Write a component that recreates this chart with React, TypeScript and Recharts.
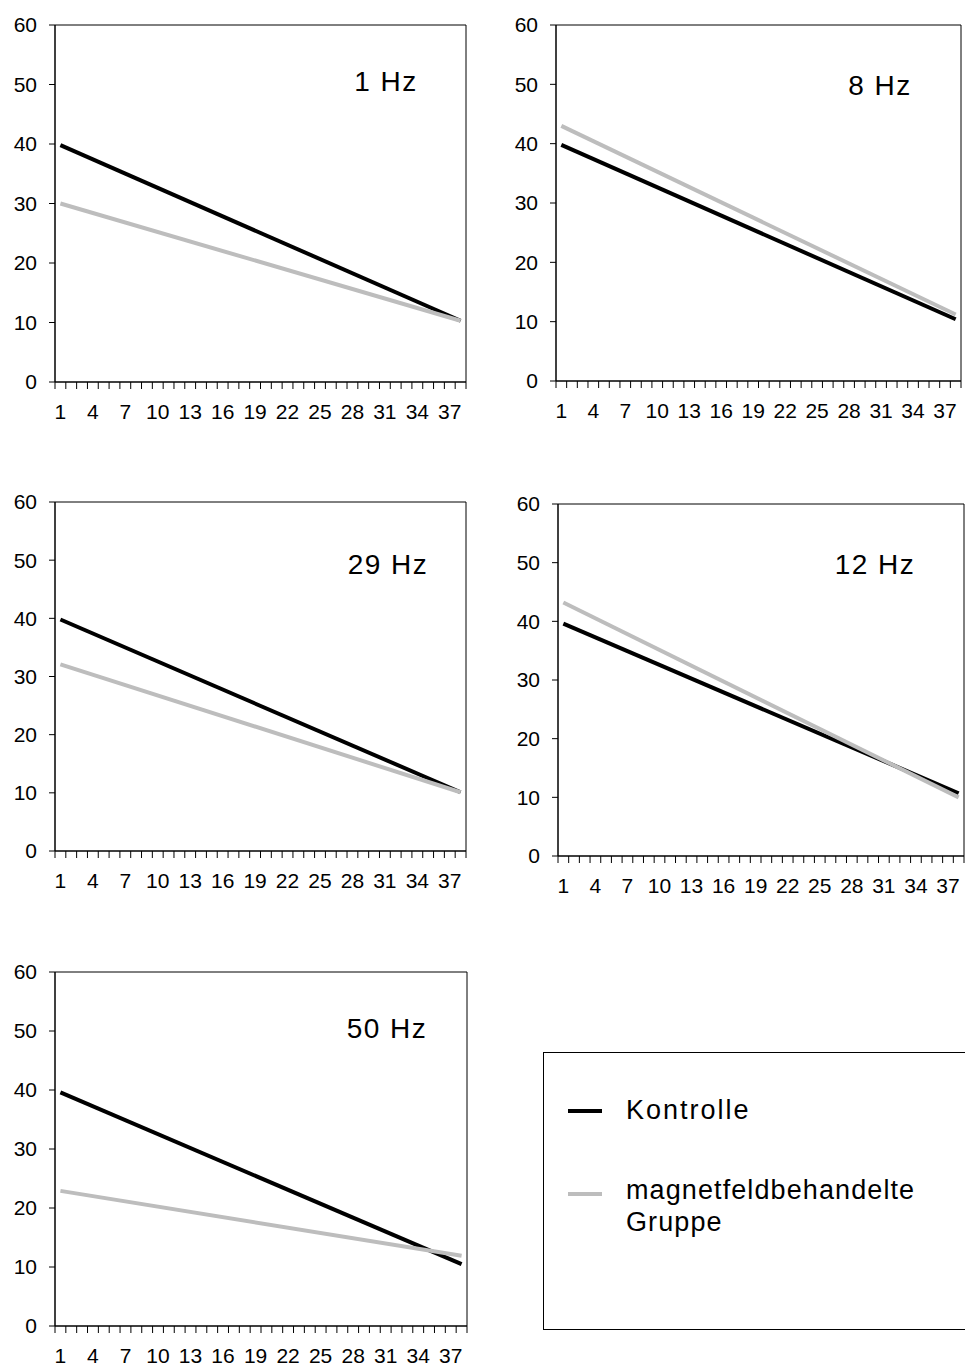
import { LineChart, Line, XAxis, YAxis, ReferenceLine } from 'recharts';

// categories on the x axis (one per measuring day)
const days = [1, 2, 3, 4, 5, 6, 7, 8, 9, 10, 11, 12, 13, 14, 15, 16, 17, 18, 19, 20, 21, 22, 23, 24, 25, 26, 27, 28, 29, 30, 31, 32, 33, 34, 35, 36, 37, 38];
const labelDays = [1, 4, 7, 10, 13, 16, 19, 22, 25, 28, 31, 34, 37];
const yTicks = [0, 10, 20, 30, 40, 50, 60];

// trend lines: value at first and last day
const trendDays = [1, 38];
const kontrolle1Hz = [39.8, 10.3];
const magnet1Hz = [30.0, 10.3];
const kontrolle8Hz = [39.8, 10.4];
const magnet8Hz = [43.0, 11.2];
const kontrolle29Hz = [39.8, 10.1];
const magnet29Hz = [32.1, 10.1];
const kontrolle12Hz = [39.6, 10.7];
const magnet12Hz = [43.2, 10.0];
const kontrolle50Hz = [39.6, 10.5];
const magnet50Hz = [22.9, 11.9];

const FONT = '"Liberation Sans", Arial, sans-serif';
const BLACK = '#000000';
const GREY = '#bdbdbd';

// tick marks sit between the categories, labels in the middle of each category
const tickEdges = [...days.map((d) => d - 0.5), days[days.length - 1] + 0.5];
const xDomain: [number, number] = [tickEdges[0], tickEdges[tickEdges.length - 1]];

const rows = (k: number[], m: number[]) =>
    trendDays.map((day, i) => ({ day, kontrolle: k[i], magnet: m[i] }));

const panels = [
    { title: '1 Hz', x: 55, y: 25, w: 411, h: 357, tx: 386, ty: 82, data: rows(kontrolle1Hz, magnet1Hz) },
    { title: '8 Hz', x: 556, y: 25, w: 405, h: 356, tx: 880, ty: 86, data: rows(kontrolle8Hz, magnet8Hz) },
    { title: '29 Hz', x: 55, y: 502, w: 411, h: 349, tx: 388, ty: 565, data: rows(kontrolle29Hz, magnet29Hz) },
    { title: '12 Hz', x: 558, y: 504, w: 406, h: 352, tx: 875, ty: 565, data: rows(kontrolle12Hz, magnet12Hz) },
    { title: '50 Hz', x: 55, y: 972, w: 412, h: 354, tx: 387, ty: 1029, data: rows(kontrolle50Hz, magnet50Hz) },
];

function DayTick({ x, y, payload, step }: any) {
    const day = payload.value + 0.5;
    if (!labelDays.includes(day)) return <g />;
    return (
        <text x={x + step / 2} y={y} dy="0.71em" textAnchor="middle" fill={BLACK}
            fontSize={21} fontFamily={FONT}>{day}</text>
    );
}

function Panel({ p }: any) {
    const ML = 55, MT = 20, MR = 8, MB = 45;
    const step = p.w / days.length;
    return (
        <>
            <div style={{ position: 'absolute', left: p.x - ML, top: p.y - MT }}>
                <LineChart width={p.w + ML + MR} height={p.h + MT + MB} data={p.data}
                    margin={{ top: MT, right: MR, left: 0, bottom: 0 }}>
                    <XAxis dataKey="day" type="number" domain={xDomain} ticks={tickEdges}
                        interval={0} height={MB} tickSize={7} tickMargin={15}
                        tick={(props: any) => <DayTick {...props} step={step} />}
                        axisLine={{ stroke: BLACK, strokeWidth: 1.5 }} tickLine={{ stroke: BLACK }} />
                    <YAxis domain={[0, 60]} ticks={yTicks} interval={0} width={ML} tickSize={6} tickMargin={12}
                        axisLine={{ stroke: BLACK, strokeWidth: 1.5 }} tickLine={{ stroke: BLACK }}
                        tick={{ fill: BLACK, fontSize: 21, fontFamily: FONT }} />
                    <ReferenceLine y={60} stroke={BLACK} strokeWidth={1} />
                    <ReferenceLine x={xDomain[1]} stroke={BLACK} strokeWidth={1} />
                    <Line type="linear" dataKey="kontrolle" stroke={BLACK} strokeWidth={4}
                        dot={false} isAnimationActive={false} />
                    <Line type="linear" dataKey="magnet" stroke={GREY} strokeWidth={4}
                        dot={false} isAnimationActive={false} />
                </LineChart>
            </div>
            <div style={{
                position: 'absolute', left: p.tx - 70, width: 140, top: p.ty - 17, textAlign: 'center',
                fontFamily: FONT, fontSize: 28, letterSpacing: 1.5, lineHeight: '34px', color: BLACK,
            }}>{p.title}</div>
        </>
    );
}

function LegendBox() {
    const text = { position: 'absolute' as const, left: 82, fontFamily: FONT, fontSize: 27, color: BLACK, lineHeight: '32px' };
    return (
        <div style={{
            position: 'absolute', left: 543, top: 1052, width: 430, height: 278,
            border: '1.5px solid #000', boxSizing: 'border-box', background: '#fff',
        }}>
            <svg style={{ position: 'absolute', left: 0, top: 0 }} width={80} height={200}>
                <line x1={24} x2={58} y1={58} y2={58} stroke={BLACK} strokeWidth={4} />
                <line x1={24} x2={58} y1={141} y2={141} stroke={GREY} strokeWidth={4} />
            </svg>
            <div style={{ ...text, top: 41, letterSpacing: 2 }}>Kontrolle</div>
            <div style={{ ...text, top: 121, letterSpacing: 1.1 }}>magnetfeldbehandelte<br />Gruppe</div>
        </div>
    );
}

export default function App() {
    return (
        <div style={{ position: 'absolute', left: 0, top: 0, width: 965, height: 1369, background: '#fff', overflow: 'hidden' }}>
            {panels.map((p) => <Panel key={p.title} p={p} />)}
            <LegendBox />
        </div>
    );
}
